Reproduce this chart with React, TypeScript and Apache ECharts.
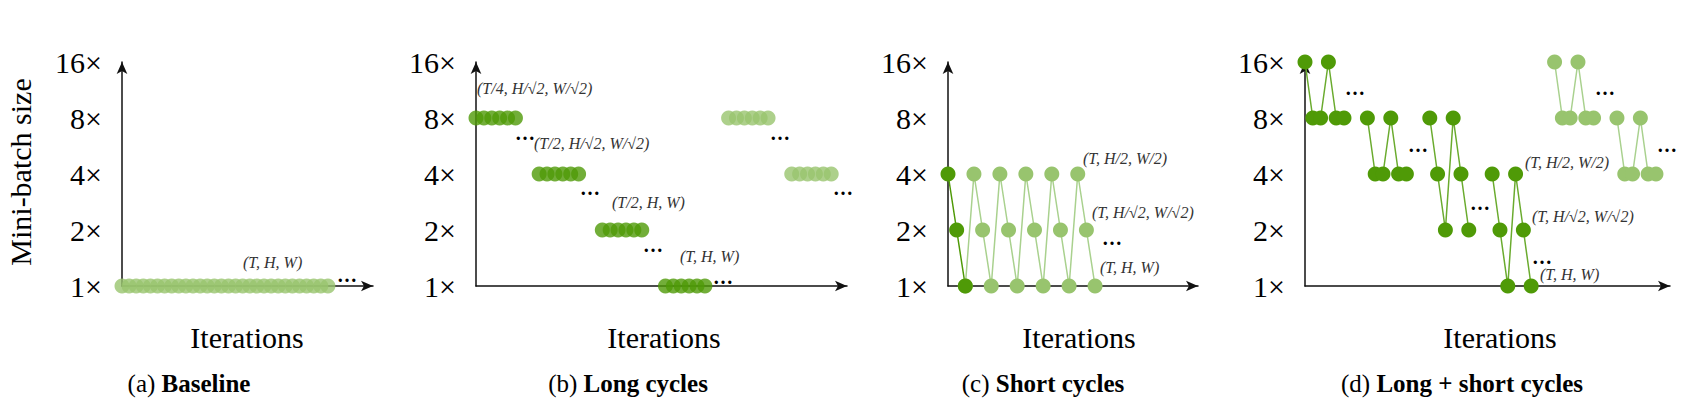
import React, { useEffect, useRef } from 'react'
import * as echarts from 'echarts'

// y levels are indices into this list
const levelLabels = ['1×', '2×', '4×', '8×', '16×']

// (a) baseline: every iteration at 1×
const baselineX = Array.from({ length: 30 }, (_, i) => i)

// (b) long cycles: one level per group of 6 iterations
const longLevels = [3, 2, 1, 0, 3, 2]
const longStarts = [0, 8, 16, 24, 32, 40]
const longDark = [true, true, true, true, false, false]

// (c) short cycles: 4×, 2×, 1× repeated
const shortCycle = [2, 1, 0]
const shortRepeats = 6

// (d) long + short cycles
const mixStages = [
  [4, 3, 3, 4, 3, 3],
  [3, 2, 2, 3, 2, 2],
  [3, 2, 1, 3, 2, 1],
  [2, 1, 0, 2, 1, 0],
  [4, 3, 3, 4, 3, 3],
  [3, 2, 2, 3, 2, 2],
]
const mixStarts = [0, 8, 16, 24, 32, 40]
const mixDark = [true, true, true, true, false, false]

const DARK = '#4f9a07'
const LIGHT = '#98c46e'
const LIGHT_LINE = '#a9d18e'
const SERIF = '"Liberation Serif", "DejaVu Serif", serif'

const panels = [
  { left: 122, right: 373, max: 35.35, caption: ['(a) ', 'Baseline'] },
  { left: 476, right: 847, max: 47, caption: ['(b) ', 'Long cycles'] },
  { left: 948, right: 1198, max: 28.9, caption: ['(c) ', 'Short cycles'] },
  { left: 1305, right: 1670, max: 46.8, caption: ['(d) ', 'Long + short cycles'] },
]

const notes: [string, number, number][] = [
  ['(T, H, W)', 243, 262],
  ['(T/4, H/√2, W/√2)', 477, 88],
  ['(T/2, H/√2, W/√2)', 534, 143],
  ['(T/2, H, W)', 612, 202],
  ['(T, H, W)', 680, 256],
  ['(T, H/2, W/2)', 1083, 158],
  ['(T, H/√2, W/√2)', 1092, 212],
  ['(T, H, W)', 1100, 267],
  ['(T, H/2, W/2)', 1525, 162],
  ['(T, H/√2, W/√2)', 1532, 216],
  ['(T, H, W)', 1540, 274],
]

const ellipses: [number, number][] = [
  [347, 275], [525, 133], [590, 188], [653, 245], [723, 277], [780, 133], [843, 188],
  [1112, 238], [1355, 88], [1418, 145], [1480, 203], [1542, 257], [1605, 88], [1667, 145],
]

const App: React.FC = () => {
  const chartRef = useRef<HTMLDivElement>(null)

  useEffect(() => {
    if (!chartRef.current) return
    document.body.style.margin = '0'
    const chart = echarts.init(chartRef.current, undefined, { renderer: 'svg' })

    const dot = (color: string) => ({ color })
    const series: any[] = []

    series.push({
      type: 'scatter', xAxisIndex: 0, yAxisIndex: 0, symbolSize: 15,
      itemStyle: dot(LIGHT), data: baselineX.map(x => [x, 0]),
    })

    longLevels.forEach((lv, g) => {
      series.push({
        type: 'scatter', xAxisIndex: 1, yAxisIndex: 1, symbolSize: 15,
        itemStyle: dot(longDark[g] ? DARK : LIGHT),
        data: Array.from({ length: 6 }, (_, i) => [longStarts[g] + i, lv]),
      })
    })

    const shortData: number[][] = []
    for (let r = 0; r < shortRepeats; r++) {
      shortCycle.forEach((lv, i) => shortData.push([r * 3 + i, lv]))
    }
    series.push({
      type: 'line', xAxisIndex: 2, yAxisIndex: 2, symbol: 'circle', symbolSize: 15,
      itemStyle: dot(LIGHT), lineStyle: { color: LIGHT_LINE, width: 1.5 },
      data: shortData.slice(2),
    })
    series.push({
      type: 'line', xAxisIndex: 2, yAxisIndex: 2, symbol: 'circle', symbolSize: 15, z: 3,
      itemStyle: dot(DARK), lineStyle: { color: DARK, width: 1.5 },
      data: shortData.slice(0, 3),
    })

    mixStages.forEach((levels, s) => {
      const dark = mixDark[s]
      series.push({
        type: 'line', xAxisIndex: 3, yAxisIndex: 3, symbol: 'circle', symbolSize: 15,
        itemStyle: dot(dark ? DARK : LIGHT),
        lineStyle: { color: dark ? '#6aab2e' : LIGHT_LINE, width: 1.5 },
        data: levels.map((lv, i) => [mixStarts[s] + i, lv]),
      })
    })

    const graphic: any[] = []
    notes.forEach(([t, x, y]) => graphic.push({
      type: 'text', x, y,
      style: { text: t, fill: '#333', font: `italic 16px ${SERIF}`, textAlign: 'left', textVerticalAlign: 'middle' },
    }))
    ellipses.forEach(([x, y]) => graphic.push({
      type: 'text', x, y,
      style: { text: '…', fill: '#000', font: `bold 20px ${SERIF}`, textAlign: 'center', textVerticalAlign: 'middle' },
    }))
    graphic.push({
      type: 'text', x: 20, y: 172, rotation: Math.PI / 2,
      style: { text: 'Mini-batch size', fill: '#000', font: `30px ${SERIF}`, textAlign: 'center', textVerticalAlign: 'middle' },
    })
    const iterX = [247, 664, 1079, 1500]
    const capX = [189, 628, 1043, 1462]
    panels.forEach((p, i) => {
      graphic.push({
        type: 'text', x: iterX[i], y: 337,
        style: { text: 'Iterations', fill: '#000', font: `30px ${SERIF}`, textAlign: 'center', textVerticalAlign: 'middle' },
      })
      graphic.push({
        type: 'text', x: capX[i], y: 383,
        style: {
          text: `{n|${p.caption[0]}}{b|${p.caption[1]}}`, textAlign: 'center', textVerticalAlign: 'middle',
          rich: {
            n: { fontFamily: SERIF, fontSize: 25, fill: '#000' },
            b: { fontFamily: SERIF, fontSize: 25, fontWeight: 'bold', fill: '#000' },
          },
        },
      })
    })

    const option = {
      animation: false,
      grid: panels.map(p => ({ left: p.left, top: 62, width: p.right - p.left, height: 224 })),
      xAxis: panels.map((p, i) => ({
        type: 'value', gridIndex: i, min: 0, max: p.max,
        axisLine: { show: true, onZero: false, symbol: ['none', 'arrow'], symbolSize: [8, 12], lineStyle: { color: '#111', width: 1.5 } },
        axisTick: { show: false }, axisLabel: { show: false }, splitLine: { show: false },
      })),
      yAxis: panels.map((_, i) => ({
        type: 'value', gridIndex: i, min: 0, max: 4, interval: 1,
        axisLine: { show: true, symbol: ['none', 'arrow'], symbolSize: [8, 12], lineStyle: { color: '#111', width: 1.5 } },
        axisTick: { show: false }, splitLine: { show: false },
        axisLabel: {
          margin: 20, fontSize: 30, fontFamily: SERIF, color: '#000',
          formatter: (v: number) => levelLabels[v] ?? '',
        },
      })),
      series,
      graphic,
    }

    chart.setOption(option)
    return () => chart.dispose()
  }, [])

  return <div ref={chartRef} style={{ width: 1689, height: 402 }} />
}

export default App
